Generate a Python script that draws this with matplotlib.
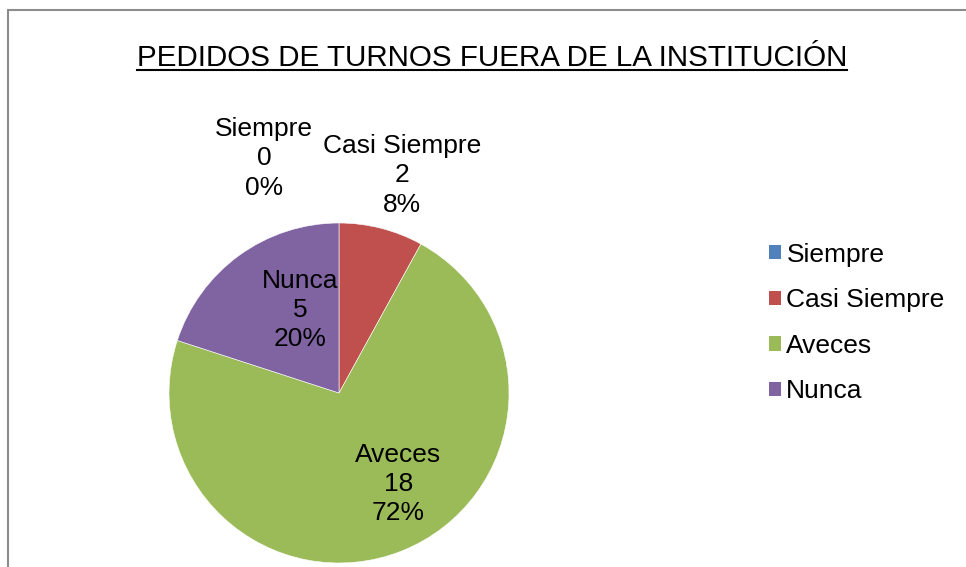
import matplotlib
matplotlib.use("Agg")
import matplotlib.pyplot as plt
from matplotlib.patches import Rectangle
from matplotlib.lines import Line2D

categories = ["Siempre", "Casi Siempre", "Aveces", "Nunca"]
values = [0, 2, 18, 5]
percents = ["0%", "8%", "72%", "20%"]
colors = ["#4F81BD", "#C0504D", "#9BBB59", "#8064A2"]
title = "PEDIDOS DE TURNOS FUERA DE LA INSTITUCIÓN"

# where each data label sits (data units, pie radius = 1)
label_pos = [(-0.44, 1.38), (0.37, 1.28), (0.35, -0.535), (-0.23, 0.488)]

plt.rcParams["font.family"] = ["Liberation Sans", "DejaVu Sans"]

W, H = 966, 567
fig = plt.figure(figsize=(W / 100, H / 100), dpi=100)

# chart frame (only left and top edges are visible in the crop)
fig.patches.append(Rectangle((8 / W, -0.1), 1.2, (H - 10) / H + 0.1,
                             transform=fig.transFigure, fill=False,
                             edgecolor="#8c8c8c", linewidth=1.5))

cx, cy, r = 339, 393, 170
ax = fig.add_axes([(cx - r) / W, (H - cy - r) / H, 2 * r / W, 2 * r / H])
wedges, _ = ax.pie(values, colors=colors, startangle=90, counterclock=False,
                   radius=1, wedgeprops=dict(linewidth=0.4, edgecolor="white"))
ax.set_xlim(-1, 1)
ax.set_ylim(-1, 1)
ax.set_aspect("equal")
ax.axis("off")

for cat, v, p, (lx, ly) in zip(categories, values, percents, label_pos):
    ax.text(lx, ly, f"{cat}\n{v}\n{p}", ha="center", va="center",
            fontsize=19, linespacing=1.28, clip_on=False)

t = fig.text(492 / W, 1 - 58 / H, title, ha="center", va="center", fontsize=21.3)
fig.canvas.draw()
bb = t.get_window_extent().transformed(fig.transFigure.inverted())
uy = bb.y0 + 2 / H
fig.lines.append(Line2D([bb.x0, bb.x1], [uy, uy], transform=fig.transFigure,
                        color="black", linewidth=1.5))

handles = [Rectangle((0, 0), 1, 1, facecolor=c) for c in colors]
fig.legend(handles, categories, loc="center left",
           bbox_to_anchor=(756 / W, 1 - 323 / H), frameon=False,
           fontsize=19, handlelength=0.45, handleheight=0.45,
           handletextpad=0.2, labelspacing=0.82, borderpad=0)

fig.savefig("out.png", dpi=100)
